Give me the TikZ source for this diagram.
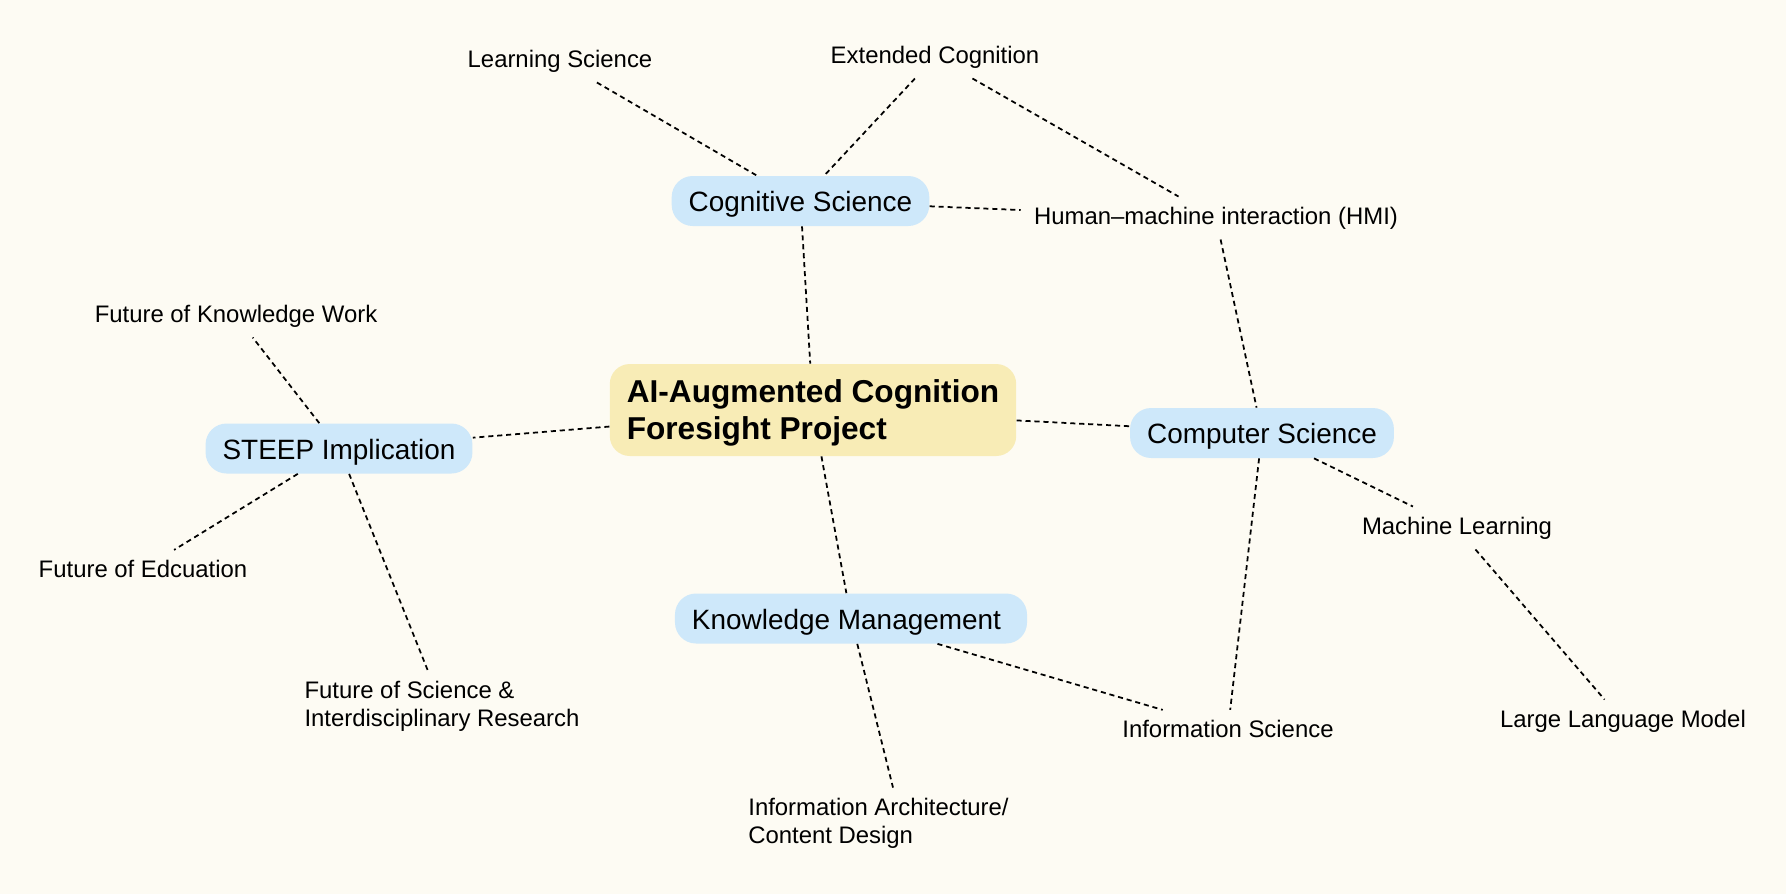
\documentclass[tikz,border=0pt]{standalone}
\usepackage{fontspec}
\setmainfont{Liberation Sans}
\definecolor{bg}{RGB}{253,251,243}
\definecolor{topicblue}{RGB}{206,232,250}
\definecolor{mainyellow}{RGB}{248,236,182}
\begin{document}
\begin{tikzpicture}[x=0.02cm,y=-0.02cm,
  conn/.style={draw=black, line width=1pt, dash pattern=on 2.9pt off 2.2pt},
  mainnode/.style={fill=mainyellow, rounded corners=0.4cm, minimum height=1.84cm, inner xsep=0.34cm, align=left, font=\fontsize{18}{21}\selectfont\bfseries},
  topic/.style={fill=topicblue, rounded corners=0.42cm, minimum height=1cm, inner xsep=0.34cm, text height=12.5pt, text depth=0.4pt, font=\fontsize{15.9}{19}\selectfont},
  leaf/.style={inner xsep=0.26cm, inner ysep=0.2cm, font=\fontsize{13.6}{15.9}\selectfont, align=left},
]
\useasboundingbox[fill=bg] (0,0) rectangle (1786,894);

% main and topic nodes
\node[mainnode] (main) at (813,410) {\rule{0pt}{16pt}AI-Augmented Cognition\\Foresight Project};
\node[topic] (cog) at (800.5,201) {Cognitive Science};
\node[topic] (steep) at (339,448.5) {STEEP Implication};
\node[topic] (comp) at (1262,433) {Computer Science};
\node[topic] (km) at (851,618.5) {Knowledge Management\hspace*{0.18cm}};

% leaf nodes
\node[leaf] (learn) at (560,61) {Learning Science};
\node[leaf] (ext) at (935,57) {Extended Cognition};
\node[leaf] (hmi) at (1216,218) {Human–machine interaction (HMI)};
\node[leaf] (fkw) at (236,316) {Future of Knowledge Work};
\node[leaf] (fedu) at (143,569) {Future of Edcuation};
\node[leaf] (fsci) at (442,706) {Future of Science \&\\Interdisciplinary Research};
\node[leaf] (ml) at (1457,528) {Machine Learning};
\node[leaf] (llm) at (1623,721) {Large Language Model};
\node[leaf] (infsci) at (1228,729) {Information Science};
\node[leaf] (ia) at (878.5,823) {Information Architecture/\\Content Design};

% connectors
\draw[conn] (learn) -- (cog);
\draw[conn] (ext) -- (cog);
\draw[conn] (ext) -- (hmi);
\draw[conn] (cog) -- (hmi);
\draw[conn] (cog) -- (main);
\draw[conn] (hmi) -- (comp);
\draw[conn] (main) -- (comp);
\draw[conn] (main) -- (steep);
\draw[conn] (steep) -- (fkw);
\draw[conn] (steep) -- (fedu);
\draw[conn] (steep) -- (fsci);
\draw[conn] (main) -- (km);
\draw[conn] (km) -- ([xshift=0.29cm]ia.north);
\draw[conn] (km) -- (infsci);
\draw[conn] (comp) -- (infsci);
\draw[conn] (comp) -- (ml);
\draw[conn] (ml) -- (llm);
\end{tikzpicture}
\end{document}
